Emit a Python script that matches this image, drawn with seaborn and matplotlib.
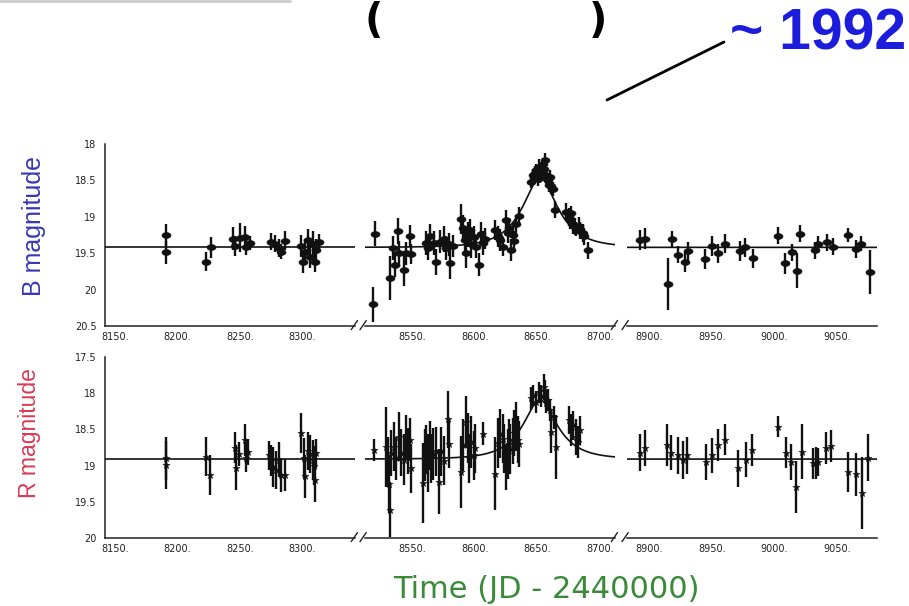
import numpy as np
import matplotlib
matplotlib.use("Agg")
import matplotlib.pyplot as plt
from matplotlib.lines import Line2D
from matplotlib.ticker import MultipleLocator, FuncFormatter
import seaborn as sns

# ---------------- photometry (JD - 2440000, magnitude, 1-sigma error) ----------------
b_day = [8191, 8191, 8223, 8227, 8244, 8246, 8250, 8254, 8255, 8258, 8275, 8278,
         8281, 8283, 8286, 8299, 8300, 8302, 8304, 8306, 8308, 8310, 8311, 8313,
         8518, 8520, 8532, 8534, 8536, 8538, 8539, 8543, 8545, 8548, 8549, 8561,
         8562, 8564, 8567, 8569, 8572, 8575, 8577, 8579, 8580, 8582, 8589, 8590,
         8592, 8593, 8594, 8596, 8597, 8599, 8601, 8603, 8605, 8606, 8608, 8616,
         8618, 8620, 8622, 8625, 8626, 8627, 8629, 8630, 8631, 8633, 8635, 8645,
         8646, 8648, 8649, 8650, 8651, 8652, 8653, 8654, 8655, 8656, 8657, 8658,
         8659, 8660, 8661, 8662, 8664, 8673, 8675, 8676, 8677, 8678, 8680, 8681,
         8683, 8684, 8686, 8687, 8690,
         8892, 8896, 8915, 8918, 8923, 8928, 8931, 8944, 8950, 8955, 8960, 8972,
         8976, 8983, 9003, 9008, 9014, 9018, 9020, 9032, 9035, 9042, 9047, 9059,
         9065, 9069, 9076]
b_mag = [19.25, 19.49, 19.62, 19.42, 19.30, 19.40, 19.29, 19.28, 19.41, 19.36, 19.34, 19.37,
         19.43, 19.48, 19.33, 19.40, 19.62, 19.48, 19.32, 19.55, 19.37, 19.62, 19.45, 19.35,
         20.20, 19.23, 19.84, 19.43, 19.66, 19.19, 19.50, 19.73, 19.50, 19.26, 19.51, 19.36,
         19.43, 19.27, 19.36, 19.62, 19.34, 19.30, 19.43, 19.38, 19.63, 19.40, 19.03, 19.15,
         19.32, 19.50, 19.24, 19.18, 19.38, 19.28, 19.42, 19.66, 19.23, 19.36, 19.30, 19.18,
         19.27, 19.32, 19.41, 19.04, 19.22, 19.15, 19.46, 19.25, 19.33, 19.10, 18.99, 18.52,
         18.42, 18.40, 18.36, 18.48, 18.31, 18.45, 18.38, 18.27, 18.34, 18.22, 18.42, 18.50,
         18.56, 18.46, 18.58, 18.62, 18.90, 18.93, 19.00, 19.05, 18.95, 19.11, 19.13, 19.17,
         19.12, 19.19, 19.22, 19.27, 19.46,
         19.32, 19.30, 19.92, 19.31, 19.52, 19.62, 19.47, 19.58, 19.40, 19.50, 19.37, 19.47,
         19.42, 19.57, 19.26, 19.64, 19.49, 19.74, 19.23, 19.46, 19.38, 19.35, 19.41, 19.25,
         19.44, 19.37, 19.76]
b_err = [0.15, 0.16, 0.13, 0.14, 0.16, 0.14, 0.20, 0.15, 0.12, 0.10, 0.12, 0.12,
         0.12, 0.10, 0.13, 0.15, 0.15, 0.18, 0.15, 0.16, 0.18, 0.14, 0.15, 0.12,
         0.24, 0.17, 0.30, 0.16, 0.17, 0.18, 0.17, 0.22, 0.16, 0.15, 0.14, 0.16,
         0.16, 0.17, 0.16, 0.18, 0.16, 0.18, 0.17, 0.16, 0.22, 0.15, 0.20, 0.17,
         0.16, 0.20, 0.17, 0.15, 0.18, 0.16, 0.15, 0.16, 0.16, 0.17, 0.14, 0.14,
         0.14, 0.15, 0.13, 0.13, 0.14, 0.13, 0.15, 0.13, 0.13, 0.12, 0.12, 0.08,
         0.08, 0.10, 0.08, 0.10, 0.10, 0.08, 0.08, 0.08, 0.10, 0.10, 0.08, 0.10,
         0.10, 0.10, 0.10, 0.10, 0.12, 0.12, 0.12, 0.12, 0.10, 0.12, 0.12, 0.10,
         0.12, 0.12, 0.12, 0.12, 0.12,
         0.14, 0.14, 0.36, 0.12, 0.12, 0.14, 0.13, 0.14, 0.14, 0.13, 0.13, 0.14,
         0.13, 0.13, 0.12, 0.14, 0.12, 0.24, 0.12, 0.12, 0.12, 0.12, 0.12, 0.10,
         0.12, 0.10, 0.30]

r_day = [8191, 8191, 8223, 8226, 8246, 8247, 8249, 8254, 8255, 8256, 8273, 8275,
         8276, 8279, 8281, 8283, 8286, 8299, 8301, 8302, 8304, 8306, 8308, 8309,
         8310, 8311,
         8519, 8529, 8530, 8531, 8532, 8533, 8535, 8537, 8539, 8541, 8543, 8545,
         8546, 8548, 8549, 8558, 8560, 8561, 8562, 8564, 8565, 8566, 8569, 8571,
         8573, 8575, 8578, 8579, 8589, 8590, 8593, 8594, 8595, 8597, 8599, 8600,
         8606, 8616, 8618, 8620, 8622, 8623, 8625, 8626, 8627, 8628, 8630, 8631,
         8633, 8634, 8635, 8645, 8646, 8649, 8651, 8653, 8655, 8656, 8657, 8658,
         8660, 8661, 8663, 8665, 8675, 8677, 8678, 8681, 8682, 8684,
         8892, 8896, 8914, 8917, 8923, 8927, 8930, 8945, 8950, 8955, 8960, 8971,
         8977, 8982, 9003, 9009, 9013, 9017, 9022, 9031, 9033, 9035, 9041, 9045,
         9059, 9065, 9070, 9075]
r_mag = [18.90, 18.99, 18.88, 19.13, 18.75, 19.03, 18.84, 18.65, 18.89, 18.81, 18.86, 18.93,
         19.02, 19.06, 18.92, 19.13, 19.13, 18.55, 18.90, 19.15, 18.80, 18.84, 18.92, 19.00,
         19.20, 18.83,
         18.78, 18.74, 18.95, 19.26, 19.61, 18.83, 18.74, 18.90, 18.60, 18.82, 18.92, 18.60,
         18.80, 18.64, 19.04, 19.24, 18.85, 18.78, 18.96, 18.72, 18.90, 18.84, 18.80, 19.22,
         18.80, 18.93, 18.36, 18.70, 19.09, 18.72, 18.40, 18.62, 18.90, 18.68, 18.86, 18.76,
         18.56, 19.11, 18.69, 18.56, 18.63, 18.76, 19.02, 18.84, 18.70, 18.77, 18.66, 18.55,
         18.46, 18.64, 18.70, 18.07, 18.03, 18.12, 17.99, 18.04, 17.91, 17.97, 18.13, 18.09,
         18.23, 18.53, 18.33, 18.74, 18.37, 18.51, 18.44, 18.60, 18.67, 18.51,
         18.82, 18.76, 18.71, 18.82, 18.86, 18.92, 18.86, 18.95, 18.86, 18.71, 18.64, 19.04,
         18.92, 18.79, 18.46, 18.82, 18.95, 19.29, 18.81, 18.97, 18.96, 18.95, 18.76, 18.73,
         19.09, 19.12, 19.38, 18.89]
r_err = [0.30, 0.33, 0.27, 0.28, 0.22, 0.31, 0.16, 0.22, 0.20, 0.18, 0.20, 0.22,
         0.28, 0.26, 0.24, 0.24, 0.22, 0.28, 0.28, 0.30, 0.26, 0.26, 0.28, 0.27,
         0.30, 0.20,
         0.15, 0.55, 0.35, 0.40, 0.38, 0.32, 0.34, 0.30, 0.34, 0.32, 0.35, 0.30,
         0.32, 0.30, 0.34, 0.55, 0.36, 0.34, 0.40, 0.34, 0.34, 0.36, 0.34, 0.45,
         0.34, 0.34, 0.39, 0.34, 0.50, 0.36, 0.36, 0.34, 0.34, 0.36, 0.34, 0.34,
         0.16, 0.50, 0.35, 0.34, 0.34, 0.34, 0.32, 0.34, 0.34, 0.34, 0.32, 0.32,
         0.34, 0.32, 0.32, 0.16, 0.15, 0.15, 0.15, 0.15, 0.18, 0.15, 0.15, 0.15,
         0.15, 0.30, 0.16, 0.44, 0.20, 0.22, 0.20, 0.25, 0.22, 0.20,
         0.25, 0.25, 0.29, 0.24, 0.25, 0.26, 0.25, 0.25, 0.24, 0.22, 0.22, 0.25,
         0.24, 0.22, 0.14, 0.22, 0.25, 0.36, 0.38, 0.22, 0.22, 0.20, 0.22, 0.22,
         0.28, 0.30, 0.50, 0.32]

# ---------------- point-lens (Paczynski) fit ----------------
fit_t0 = 8652.0      # time of peak
fit_te = 25.5        # Einstein crossing time [days]
fit_umin = 0.445     # impact parameter
b_base, r_base = 19.42, 18.91
b_blend, r_blend = 1.0, 0.8

# ---------------- axis definitions ----------------
segments = [(8142, 8342), (8512, 8712), (8882, 9082)]
b_ylim = (20.5, 18.0)
r_ylim = (20.0, 17.5)
x_label = "Time (JD - 2440000)"


def lens_mag(t, base, blend):
    u = np.sqrt(fit_umin ** 2 + ((t - fit_t0) / fit_te) ** 2)
    amp = (u ** 2 + 2) / (u * np.sqrt(u ** 2 + 4))
    return base - 2.5 * np.log10(blend * amp + 1 - blend)


model_t = np.arange(8100.0, 9100.0, 0.5)

sns.set_style("white")
plt.rcParams["font.family"] = ["DejaVu Sans"]

W, H = 909, 606
fig = plt.figure(figsize=(W / 100, H / 100), dpi=100)


def rect(x0, y0, x1, y1):
    return [x0 / W, 1 - y1 / H, (x1 - x0) / W, (y1 - y0) / H]


seg_px = [(105, 355), (365, 615), (627, 877)]
rows = [
    dict(day=b_day, mag=b_mag, err=b_err, ylim=b_ylim, y=(144, 326),
         base=b_base, blend=b_blend, marker="ellipse"),
    dict(day=r_day, mag=r_mag, err=r_err, ylim=r_ylim, y=(357, 538),
         base=r_base, blend=r_blend, marker="*"),
]

t_ell = np.linspace(0, 2 * np.pi, 40)
ellipse = np.column_stack([1.55 * np.cos(t_ell), np.sin(t_ell)])

for row in rows:
    model_mag = lens_mag(model_t, row["base"], row["blend"])
    for k, ((x0, x1), seg) in enumerate(zip(seg_px, segments)):
        ax = fig.add_axes(rect(x0, row["y"][0], x1, row["y"][1]))
        ax.set_facecolor("none")
        ax.errorbar(row["day"], row["mag"], yerr=row["err"], fmt="none",
                    ecolor="#111111", elinewidth=1.7, capsize=0, zorder=2)
        if row["marker"] == "ellipse":
            sns.scatterplot(x=row["day"], y=row["mag"], ax=ax, marker=ellipse,
                            s=42, color="#111111", edgecolor="#111111",
                            linewidth=0.5, legend=False, zorder=3)
        else:
            sns.scatterplot(x=row["day"], y=row["mag"], ax=ax, marker="*",
                            s=30, color="#111111", edgecolor="#111111",
                            linewidth=0.3, legend=False, zorder=3)
        sns.lineplot(x=model_t, y=model_mag, ax=ax, color="#111111",
                     linewidth=1.2, estimator=None, zorder=4)
        ax.set_xlim(*seg)
        ax.set_ylim(*row["ylim"])
        ax.set_xlabel("")
        ax.set_ylabel("")
        for side in ("top", "right"):
            ax.spines[side].set_visible(False)
        ax.spines["bottom"].set_linewidth(1.1)
        ax.spines["bottom"].set_color("#222222")
        ax.xaxis.set_major_locator(MultipleLocator(50))
        ax.xaxis.set_minor_locator(MultipleLocator(10))
        ax.xaxis.set_major_formatter(FuncFormatter(lambda v, _: f"{v:.0f}."))
        ax.tick_params(axis="x", which="major", direction="in", length=5,
                       width=1, labelsize=7, pad=4, colors="#222222")
        ax.tick_params(axis="x", which="minor", direction="in", length=2.5,
                       width=0.9, colors="#222222")
        if k == 0:
            ax.spines["left"].set_linewidth(1.1)
            ax.spines["left"].set_color("#222222")
            ax.yaxis.set_major_locator(MultipleLocator(0.5))
            ax.yaxis.set_minor_locator(MultipleLocator(0.1))
            ax.yaxis.set_major_formatter(FuncFormatter(lambda v, _: f"{v:g}"))
            ax.tick_params(axis="y", which="major", direction="in", length=5,
                           width=1, labelsize=7, pad=6, colors="#222222")
            ax.tick_params(axis="y", which="minor", direction="in", length=2.5,
                           width=0.9, colors="#222222")
        else:
            ax.spines["left"].set_visible(False)
            ax.tick_params(axis="y", left=False, labelleft=False)
        # axis-break slashes
        kw = dict(transform=ax.transAxes, color="#222222", lw=1.0, clip_on=False)
        if k < 2:
            ax.plot([0.985, 1.01], [-0.02, 0.03], **kw)
        if k > 0:
            ax.plot([-0.02, 0.005], [-0.02, 0.03], **kw)

# axis titles
fig.text(34 / W, 1 - 226 / H, "B magnitude", rotation=90, ha="center",
         va="center", fontsize=18, color="#3838b4", family="Liberation Sans")
fig.text(30 / W, 1 - 433 / H, "R magnitude", rotation=90, ha="center",
         va="center", fontsize=16.5, color="#d83a55", family="Liberation Sans")
fig.text(546 / W, 1 - 589 / H, x_label, ha="center", va="center",
         fontsize=22, color="#3a8a3a")

# header: year annotation and pointer
fig.text(906 / W, 1 - 50 / H, "~ 1992", ha="right", va="baseline",
         fontsize=41, fontweight="bold", color="#1c1cdc",
         family="Liberation Sans")
fig.add_artist(Line2D([607 / W, 724 / W], [1 - 100 / H, 1 - 42 / H],
                      color="black", lw=2, transform=fig.transFigure))
fig.add_artist(Line2D([0, 290 / W], [1 - 1 / H, 1 - 1 / H],
                      color="#cccccc", lw=2, transform=fig.transFigure))
fig.text(374 / W, 1 - 1 / H, "(", ha="center", va="top", fontsize=29,
         fontweight="bold", color="black")
fig.text(598 / W, 1 - 1 / H, ")", ha="center", va="top", fontsize=29,
         fontweight="bold", color="black")

fig.savefig("out.png", dpi=100)
